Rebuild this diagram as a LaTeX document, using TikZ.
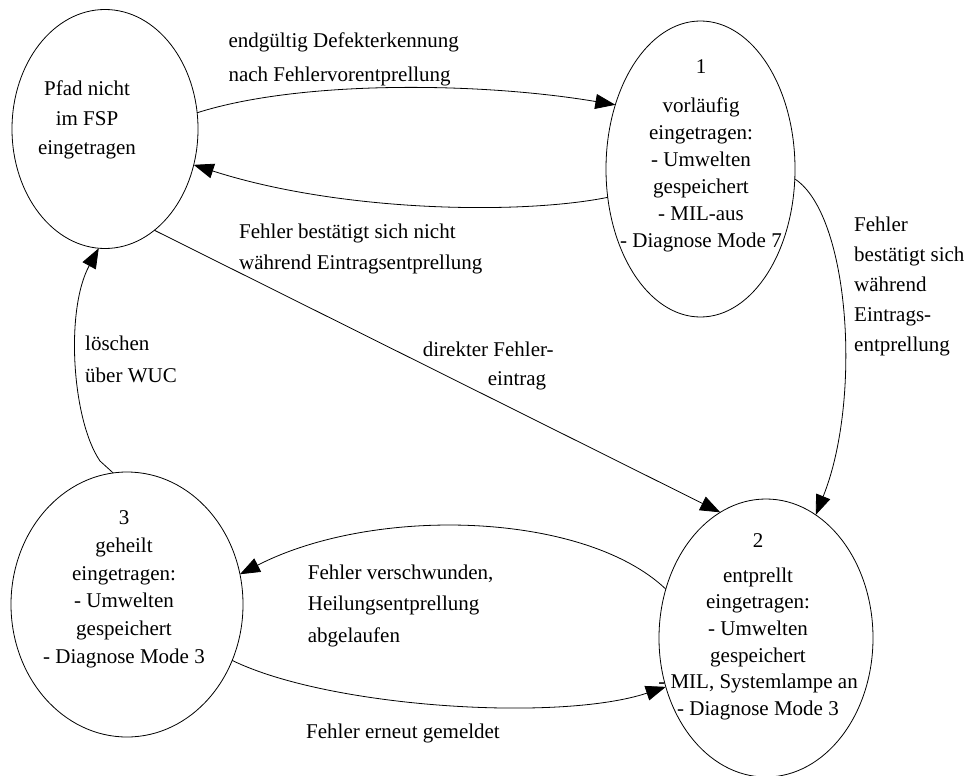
\documentclass[tikz,border=0pt]{standalone}
\usepackage{fontspec}
\setmainfont{Liberation Serif}
\usetikzlibrary{shapes.geometric,arrows.meta}

\tikzset{
  state/.style={draw, ellipse, inner sep=0pt, outer sep=0pt, line width=0.8bp},
  statetext/.style={align=center, inner sep=0pt, anchor=north,
    font=\fontsize{21bp}{#1}\selectfont},
  lbl/.style={align=left, inner sep=0pt, anchor=north west,
    font=\fontsize{21bp}{#1}\selectfont},
  trans/.style={line width=0.8bp, -{Triangle[length=20bp,width=15bp]}},
}

\begin{document}
\begin{tikzpicture}[x=1bp, y=-1bp]
  \fill[white] (0,0) rectangle (969,776);
  \useasboundingbox (0,0) rectangle (969,776);

  % states
  \node[state, minimum width=186bp, minimum height=239bp] (s0) at (105,129) {};
  \node[state, minimum width=189bp, minimum height=296bp] (s1) at (700.5,169) {};
  \node[state, minimum width=214bp, minimum height=278bp] (s2) at (766,638) {};
  \node[state, minimum width=232bp, minimum height=265bp] (s3) at (127,604.5) {};

  % state texts
  \node[statetext=29.2bp] (t0) at (87,81) {Pfad nicht\\im FSP\\eingetragen};
  \node[statetext=27bp] (t1) at (701,59.5) {1\\[12bp]vorläufig\\eingetragen:\\- Umwelten\\gespeichert\\- MIL-aus\\- Diagnose Mode 7};
  \node[statetext=26.7bp] (t2) at (758,533.3) {2\\[8bp]entprellt\\eingetragen:\\- Umwelten\\gespeichert\\- MIL, Systemlampe an\\- Diagnose Mode 3};
  \node[statetext=27.7bp] (t3) at (124,510.7) {3\\geheilt\\eingetragen:\\- Umwelten\\gespeichert\\- Diagnose Mode 3};

  % transitions
  \draw[trans] (s0.10) .. controls (300,80) and (480,82) .. (s1.143);
  \draw[trans] (s1.197) .. controls (520,215) and (340,212) .. (s0.338);
  \draw[trans] (s0.296) -- (s2.110);
  \draw[trans] (s1.354) .. controls (850,215) and (862,400) .. (s2.68);
  \draw[trans] (s2.154) .. controls (585,512) and (375,505) .. (s3.15);
  \draw[trans] (s3.332) .. controls (330,708) and (560,722) .. (s2.206);
  \draw[trans] (s3.96) -- (100,461) .. controls (72,420) and (65,310) .. (s0.267);

  % transition labels
  \node[lbl=34bp] (l01) at (228.3,33) {endgültig Defekterkennung\\nach Fehlervorentprellung};
  \node[lbl=30.7bp] (l10) at (239,224) {Fehler bestätigt sich nicht\\während Eintragsentprellung};
  \node[lbl=29bp] (l02) at (422.7,341.7) {direkter Fehler-\\\hspace*{65bp}eintrag};
  \node[lbl=31.7bp] (l30) at (85,335.7) {löschen\\über WUC};
  \node[lbl=30bp] (l12) at (854,216.4) {Fehler\\bestätigt sich\\während\\Eintrags-\\entprellung};
  \node[lbl=31.2bp] (l23) at (307.7,565) {Fehler verschwunden,\\Heilungsentprellung\\abgelaufen};
  \node[inner sep=0pt, anchor=base west, font=\fontsize{21bp}{25bp}\selectfont] (l32) at (306,738.3) {Fehler erneut gemeldet};
\end{tikzpicture}
\end{document}
